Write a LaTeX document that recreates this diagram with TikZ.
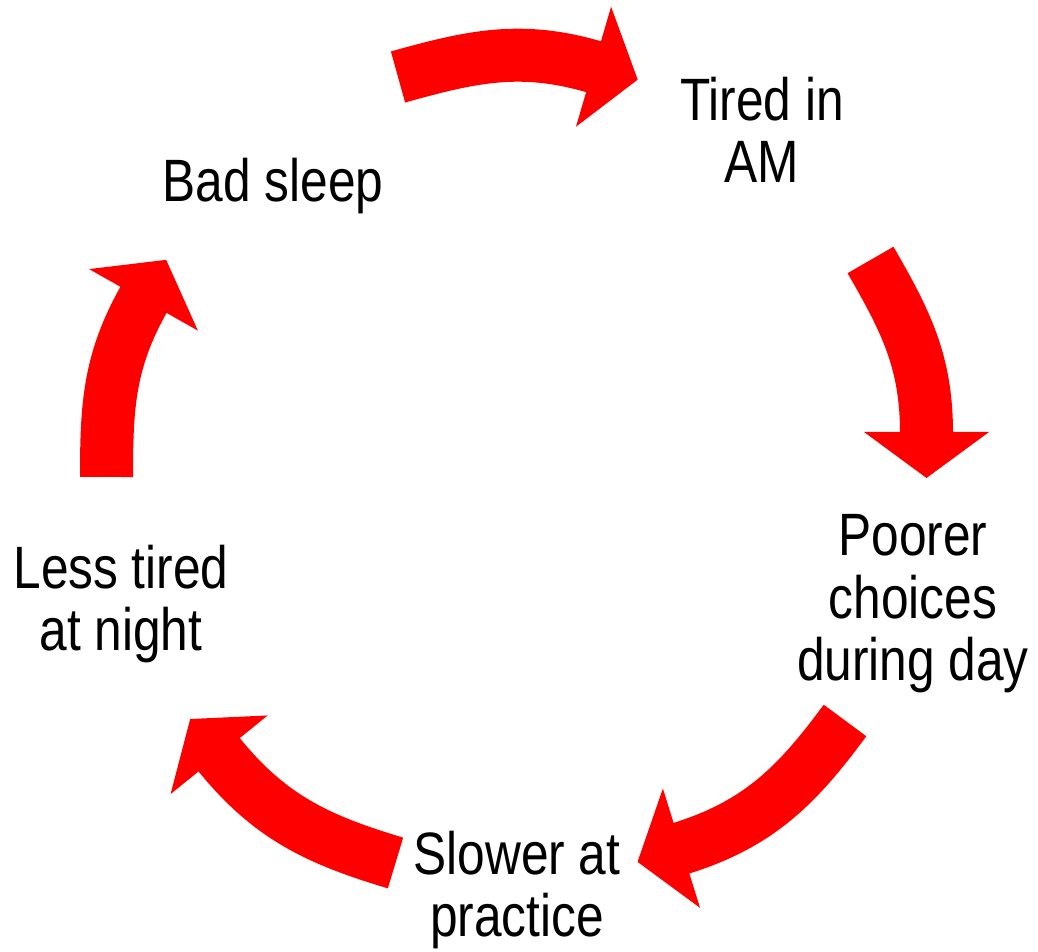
\documentclass[tikz,border=0pt]{standalone}
\usepackage{fontspec}
\setmainfont{Liberation Sans}[FakeStretch=0.83]
\usetikzlibrary{calc}
\definecolor{arrow_red}{RGB}{255,0,0}

% head of a block arrow: #1 base midpoint, #2 direction
\newcommand{\headat}[2]{%
  \fill[arrow_red] ($(#1)+(#2+90:62.5)+(#2:-1)$) -- ($(#1)+(#2:45)$)
    -- ($(#1)+(#2-90:62.5)+(#2:-1)$) -- cycle;}

\begin{document}
\begin{tikzpicture}[x=0.5pt,y=0.5pt]
    \tikzstyle{txt}=[align=center, inner sep=0pt, text=black, font=\fontsize{29.9pt}{31.3pt}\selectfont]
    \tikzstyle{band}=[draw=arrow_red, line width=26.5pt]
    \useasboundingbox (0,0) rectangle (1038,952);

    \node[txt] (bad)    at (273,766) {Bad sleep};
    \node[txt] (tired)  at (762,822) {Tired in\\AM};
    \node[txt] (poorer) at (913,348) {Poorer\\choices\\during day};
    \node[txt] (slower) at (517,62)  {Slower at\\practice};
    \node[txt] (less)   at (121,348) {Less tired\\at night};

    \coordinate (t1) at (398,875);   \coordinate (h1) at (594.5,885);
    \coordinate (t2) at (870.5,692); \coordinate (h2) at (926.5,519);
    \coordinate (t3) at (845,231.5); \coordinate (h3) at (680.5,103.5);
    \coordinate (t4) at (395.5,89);  \coordinate (h4) at (218.5,198);
    \coordinate (t5) at (106.5,475); \coordinate (h5) at (144,653);

    \draw[band] (t1) to[out=15.6,in=163.7] (h1);
    \draw[band] (t2) to[out=-60,in=90] (h2);
    \draw[band] (t3) to[out=233.6,in=17.3] (h3);
    \draw[band] (t4) to[out=163.3,in=-51] (h4);
    \draw[band] (t5) to[out=90,in=240.5] (h5);
    \headat{h1}{-16.3}
    \headat{h2}{-90}
    \headat{h3}{197.3}
    \headat{h4}{129}
    \headat{h5}{60.5}
\end{tikzpicture}
\end{document}
